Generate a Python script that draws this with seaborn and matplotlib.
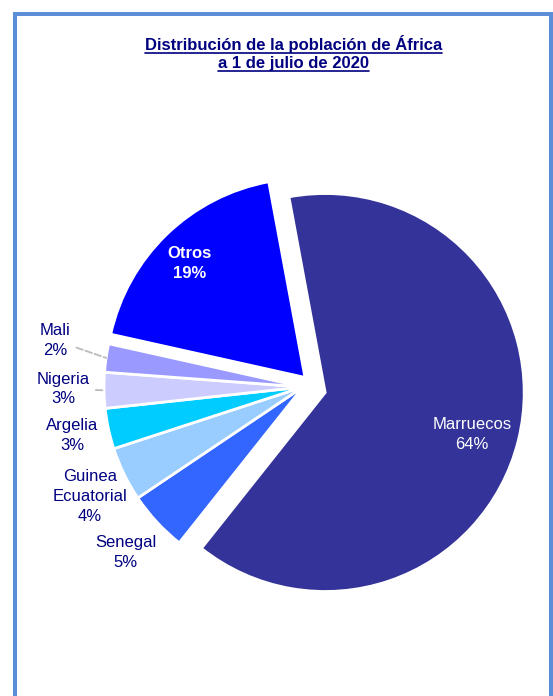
import numpy as np
import seaborn as sns
import matplotlib.pyplot as plt
from matplotlib.patches import Rectangle
from matplotlib.lines import Line2D

# data
paises = ["Marruecos", "Senegal", "Guinea\nEcuatorial", "Argelia", "Nigeria", "Mali", "Otros"]
valores = [63.6, 4.9, 4.4, 3.3, 2.9, 2.3, 18.6]
colores = ["#333399", "#3366FF", "#99CCFF", "#00CCFF", "#CCCCFF", "#9999FF", "#0000FF"]
explode = [0.115, 0, 0, 0, 0, 0, 0]

# label layout (data units, radius = 1)
pos_etiquetas = [(0.85, -0.24), (-0.89, -0.83), (-1.07, -0.55), (-1.16, -0.245),
                 (-1.205, -0.01), (-1.245, 0.235), (-0.57, 0.62)]
desplaz_otros = (0.01, 0.048)

sns.set_style("white")
plt.rcParams['font.family'] = ['Liberation Sans', 'DejaVu Sans']

fig = plt.figure(figsize=(5.53, 6.96), dpi=100)
ax = fig.add_axes([0.0801, 0.0723, 0.9356, 0.7434])

wedges, _ = ax.pie(valores, colors=sns.color_palette(colores), explode=explode,
                   startangle=100.5, counterclock=False, radius=1,
                   wedgeprops=dict(edgecolor="white", linewidth=2))
wedges[-1].set_center(desplaz_otros)
ax.set_xlim(-1.3, 1.3)
ax.set_ylim(-1.3, 1.3)
ax.set_aspect("equal")
ax.axis("off")

navy = "#000080"
ls = 1.4
total = sum(valores)
for i, (w, nombre, v) in enumerate(zip(wedges, paises, valores)):
    txt = f"{nombre}\n{v / total * 100:.0f}%"
    x, y = pos_etiquetas[i]
    if nombre == "Otros":
        ax.text(x, y, txt, ha="center", va="center", fontsize=12, color="white",
                fontweight="bold", linespacing=ls)
    elif nombre == "Marruecos":
        ax.text(x, y, txt, ha="center", va="center", fontsize=12, color="white",
                linespacing=ls)
    elif nombre in ("Mali", "Nigeria"):
        ang = np.deg2rad((w.theta1 + w.theta2) / 2)
        ax.annotate(txt, xy=(np.cos(ang), np.sin(ang)), xytext=(x, y),
                    ha="center", va="center", fontsize=12, color=navy, linespacing=ls,
                    arrowprops=dict(arrowstyle="-", color="#BBBBBB", linestyle="--",
                                    lw=1.3, shrinkA=2, shrinkB=0))
    else:
        ax.text(x, y, txt, ha="center", va="center", fontsize=12, color=navy,
                linespacing=ls)

# title, underlined
t1 = fig.text(0.531, 1 - 50 / 696, "Distribución de la población de África", ha="center",
              va="baseline", fontsize=12, fontweight="bold", color=navy)
t2 = fig.text(0.531, 1 - 68 / 696, "a 1 de julio de 2020", ha="center",
              va="baseline", fontsize=12, fontweight="bold", color=navy)
fig.canvas.draw()
for t, base in ((t1, 50), (t2, 68)):
    bb = t.get_window_extent()
    yy = 1 - (base + 2.5) / 696
    fig.add_artist(Line2D([bb.x0 / 553, bb.x1 / 553], [yy, yy], color=navy, lw=1.2,
                          transform=fig.transFigure))

# frame
fig.add_artist(Rectangle((14.5 / 553, -0.05), (550.5 - 14.5) / 553, 1.05 - 14 / 696,
                         fill=False, edgecolor="#5B8ED6", linewidth=2.9,
                         transform=fig.transFigure))

fig.savefig("out.png", dpi=100)
